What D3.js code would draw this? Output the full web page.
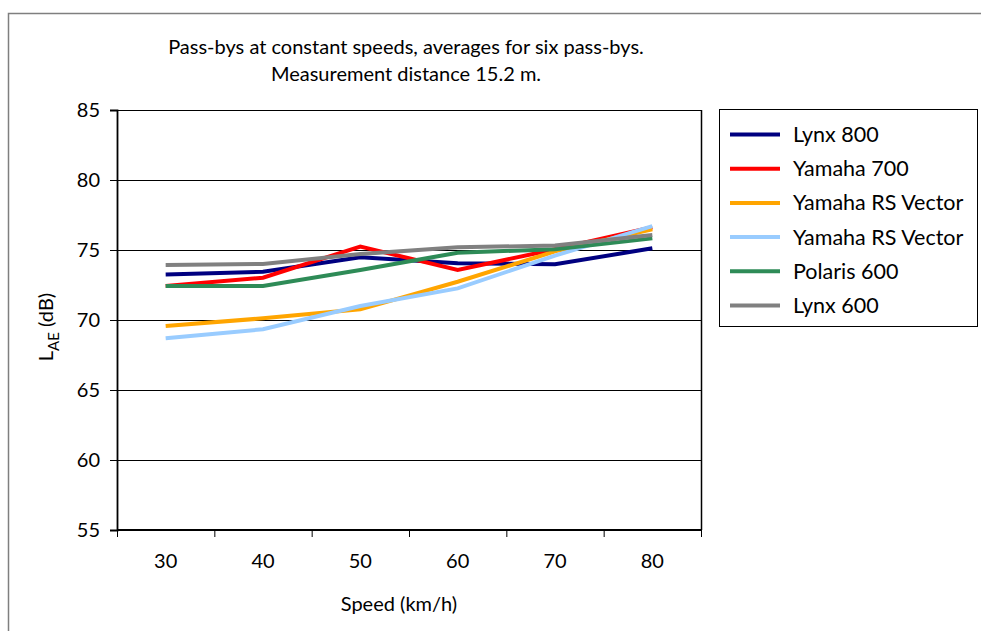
<!DOCTYPE html>
<html>
<head>
<meta charset="utf-8">
<script src="https://cdn.jsdelivr.net/npm/d3@7"></script>
<style>
  html, body { margin: 0; padding: 0; background: #fff; }
  svg { display: block; font-family: Lato, "Open Sans", sans-serif; }
</style>
</head>
<body>
<svg id="chart" width="981" height="631"></svg>
<script>
const speeds = [30, 40, 50, 60, 70, 80];
const yTicks = [55, 60, 65, 70, 75, 80, 85];
const seriesNames = ["Lynx 800", "Yamaha 700", "Yamaha RS Vector", "Yamaha RS Vector", "Polaris 600", "Lynx 600"];
const seriesColors = ["#000080", "#FF0000", "#FFA500", "#99CCFF", "#2E8B57", "#808080"];
const lynx800   = [73.25, 73.45, 74.48, 74.05, 73.98, 75.12];
const yamaha700 = [72.43, 73.02, 75.25, 73.57, 75.05, 76.62];
const rsVector1 = [69.57, 70.12, 70.76, 72.73, 74.90, 76.48];
const rsVector2 = [68.69, 69.34, 71.00, 72.26, 74.60, 76.71];
const polaris600 = [72.43, 72.43, 73.57, 74.81, 75.05, 75.83];
const lynx600   = [73.93, 74.00, 74.71, 75.19, 75.32, 76.07];
const seriesValues = [lynx800, yamaha700, rsVector1, rsVector2, polaris600, lynx600];
const titleLines = ["Pass-bys at constant speeds, averages for six pass-bys.", "Measurement distance 15.2 m."];

const svg = d3.select("#chart");
const W = 981, H = 631;
const plot = { left: 117, right: 701, top: 110, bottom: 530 };

// outer border
svg.append("path")
  .attr("d", `M8.5,${H} L8.5,13.5 L${W},13.5`)
  .attr("fill", "none").attr("stroke", "#7f7f7f").attr("stroke-width", 1.5);

const x = d3.scaleBand().domain(speeds).range([plot.left, plot.right]).padding(0);
const y = d3.scaleLinear().domain([55, 85]).range([plot.bottom, plot.top]);

// gridlines
svg.append("g")
  .selectAll("line").data(yTicks.filter(t => t > 55)).join("line")
  .attr("x1", plot.left).attr("x2", plot.right)
  .attr("y1", d => y(d) + 0.5).attr("y2", d => y(d) + 0.5)
  .attr("stroke", "#000").attr("stroke-width", 1);

// right border of plot area
svg.append("line")
  .attr("x1", plot.right + 0.5).attr("x2", plot.right + 0.5)
  .attr("y1", plot.top).attr("y2", plot.bottom)
  .attr("stroke", "#000").attr("stroke-width", 1.5);

// Y axis
const yAxis = svg.append("g")
  .attr("transform", `translate(${plot.left},0)`)
  .call(d3.axisLeft(y).tickValues(yTicks).tickSize(7).tickPadding(10).tickFormat(d3.format("d")));
yAxis.select(".domain").attr("stroke-width", 1.8);
yAxis.selectAll(".tick line").attr("stroke-width", 1);
yAxis.selectAll("text").attr("font-size", 20).attr("fill", "#000").attr("font-family", "Lato");

// X axis: ticks at band edges
const xAxisG = svg.append("g").attr("transform", `translate(0,${plot.bottom})`);
xAxisG.append("line")
  .attr("x1", plot.left).attr("x2", plot.right + 1)
  .attr("stroke", "#000").attr("stroke-width", 1.8);
const edges = speeds.map(s => x(s)).concat([x(speeds[speeds.length - 1]) + x.bandwidth()]);
xAxisG.selectAll("line.tk").data(edges).join("line").attr("class", "tk")
  .attr("x1", d => d + 0.5).attr("x2", d => d + 0.5).attr("y1", 0).attr("y2", 7)
  .attr("stroke", "#000").attr("stroke-width", 1);
xAxisG.selectAll("text").data(speeds).join("text")
  .attr("x", d => x(d) + x.bandwidth() / 2)
  .attr("y", 38)
  .attr("text-anchor", "middle")
  .attr("font-size", 20)
  .text(d => d);

// Axis titles
svg.append("text")
  .attr("x", 399).attr("y", 611)
  .attr("text-anchor", "middle").attr("font-size", 20)
  .text("Speed (km/h)");

const yl = svg.append("text")
  .attr("transform", `translate(53,327) rotate(-90)`)
  .attr("text-anchor", "middle").attr("font-size", 20);
yl.append("tspan").text("L");
yl.append("tspan").attr("font-size", 15).attr("dy", 6).text("AE");
yl.append("tspan").attr("dy", -6).text(" (dB)");

// Title
svg.append("g").selectAll("text").data(titleLines).join("text")
  .attr("x", 406).attr("y", (d, i) => 54 + i * 27)
  .attr("text-anchor", "middle").attr("font-size", 20)
  .text(d => d);

// Lines
const line = d3.line()
  .x((d, i) => x(speeds[i]) + x.bandwidth() / 2)
  .y(d => y(d));
svg.append("g").selectAll("path").data(seriesValues).join("path")
  .attr("d", d => line(d))
  .attr("fill", "none")
  .attr("stroke", (d, i) => seriesColors[i])
  .attr("stroke-width", 4)
  .attr("stroke-linejoin", "miter");

// Legend
const lg = svg.append("g");
lg.append("rect")
  .attr("x", 719.5).attr("y", 109.5).attr("width", 258).attr("height", 217)
  .attr("fill", "#fff").attr("stroke", "#000").attr("stroke-width", 1);
const items = lg.selectAll("g.item").data(seriesNames).join("g").attr("class", "item")
  .attr("transform", (d, i) => `translate(0,${134.5 + i * 34.2})`);
items.append("line")
  .attr("x1", 730).attr("x2", 780)
  .attr("stroke", (d, i) => seriesColors[i]).attr("stroke-width", 4);
items.append("text")
  .attr("x", 793).attr("y", 7.5)
  .attr("font-size", 21.5)
  .text(d => d);
</script>
</body>
</html>
